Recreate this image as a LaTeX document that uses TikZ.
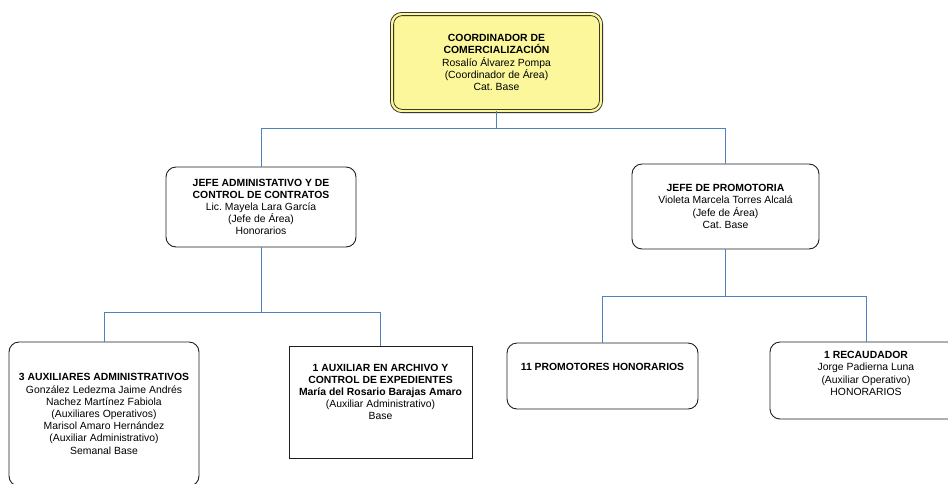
\documentclass[tikz,border=0pt]{standalone}
\usepackage{fontspec}
\setmainfont{Liberation Sans}
\frenchspacing
\definecolor{linkblue}{RGB}{79,129,189}
\definecolor{headfill}{RGB}{252,247,155}
\definecolor{boxline}{RGB}{30,30,30}
\begin{document}
\begin{tikzpicture}[x=1pt,y=-1pt,
  orgtext/.style={align=center,font=\fontsize{10.4}{12.2}\selectfont,inner sep=0pt},
  orgbox/.style={orgtext,draw=boxline,line width=0.9pt,rounded corners=10pt,fill=white},
  sqbox/.style={orgbox,rounded corners=0pt},
  link/.style={draw=linkblue,line width=0.9pt}]
\useasboundingbox (0,0) rectangle (948,483);
\clip (0,0) rectangle (948,483);

% head of the unit
\node[orgbox,fill=headfill,double=headfill,double distance=2.4pt,line width=0.8pt,
      minimum width=209pt,minimum height=97pt] (coord) at (496.5,62.5)
  {\textbf{COORDINADOR DE}\\\textbf{COMERCIALIZACIÓN}\\Rosalío Álvarez Pompa\\(Coordinador de Área)\\Cat. Base};

% second level
\node[orgbox,minimum width=190pt,minimum height=80pt] (adm) at (261,207)
  {\textbf{JEFE ADMINISTATIVO Y DE}\\\textbf{CONTROL DE CONTRATOS}\\Lic. Mayela Lara García\\(Jefe de Área)\\Honorarios};
\node[orgbox,minimum width=187pt,minimum height=85pt] (prom) at (725.5,206.5)
  {\textbf{JEFE DE PROMOTORIA}\\Violeta Marcela Torres Alcalá\\(Jefe de Área)\\Cat. Base};

% third level
\node[orgbox,minimum width=190pt,minimum height=144pt] (aux) at (104,414)
  {\textbf{3 AUXILIARES ADMINISTRATIVOS}\\González Ledezma Jaime Andrés\\Nachez Martínez Fabiola\\(Auxiliares Operativos)\\Marisol Amaro Hernández\\(Auxiliar Administrativo)\\Semanal Base};
\node[sqbox,minimum width=183pt,minimum height=112pt] (arch) at (380.5,402) {};
\node[orgtext] (archtxt) at (380.5,392)
  {\textbf{1 AUXILIAR EN ARCHIVO Y}\\\textbf{CONTROL DE EXPEDIENTES}\\\textbf{María del Rosario Barajas Amaro}\\(Auxiliar Administrativo)\\Base};
\node[orgbox,minimum width=191pt,minimum height=66pt] (promh) at (602.5,376) {};
\node[orgtext] (promhtxt) at (602.5,367) {\textbf{11 PROMOTORES HONORARIOS}};
\node[orgbox,minimum width=192pt,minimum height=77pt] (rec) at (866,380.5) {};
\node[orgtext] (rectxt) at (866,373.5)
  {\textbf{1 RECAUDADOR}\\Jorge Padierna Luna\\(Auxiliar Operativo)\\HONORARIOS};

% connectors
\draw[link] (coord.south) -- ++(0,17) coordinate (hubA);
\draw[link] (hubA) -| (adm.north);
\draw[link] (hubA) -| (prom.north);
\draw[link] (adm.south) -- ++(0,65) coordinate (hubB);
\draw[link] (hubB) -| (aux.north);
\draw[link] (hubB) -| (arch.north);
\draw[link] (prom.south) -- ++(0,47) coordinate (hubC);
\draw[link] (hubC) -| (promh.north);
\draw[link] (hubC) -| (rec.north);
\end{tikzpicture}
\end{document}
